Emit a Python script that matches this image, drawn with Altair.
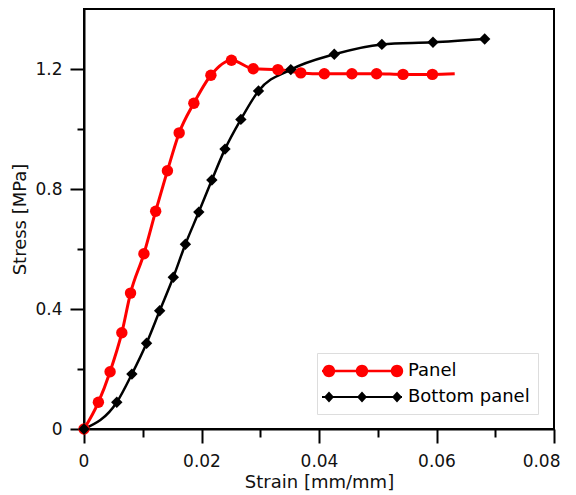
import altair as alt
import pandas as pd

# ---- data ----
panel_strain = [0.0, 0.00245, 0.00444, 0.00644, 0.00792, 0.0102, 0.0122, 0.0142, 0.0162,
                0.0187, 0.0216, 0.0251, 0.0288, 0.0330, 0.0369, 0.0409, 0.0456, 0.0498,
                0.0543, 0.0593]
panel_stress = [0.0, 0.089, 0.191, 0.321, 0.453, 0.584, 0.726, 0.861, 0.987,
                1.086, 1.179, 1.229, 1.201, 1.198, 1.187, 1.184, 1.184, 1.184,
                1.182, 1.182]
# the red line runs on a little past its last marker
panel_line_end_strain = [0.0631]
panel_line_end_stress = [1.184]

bottom_strain = [0.0, 0.00558, 0.00815, 0.01065, 0.01288, 0.0152, 0.01726, 0.01954,
                 0.02176, 0.0240, 0.0267, 0.0297, 0.0352, 0.0426, 0.0507, 0.0594, 0.0682]
bottom_stress = [0.0, 0.089, 0.183, 0.286, 0.394, 0.506, 0.616, 0.723,
                 0.830, 0.933, 1.032, 1.127, 1.198, 1.249, 1.282, 1.289, 1.300]

series_names = ["Panel", "Bottom panel"]
series_colors = ["#ff0000", "#000000"]

x_ticks = [0.0, 0.01, 0.02, 0.03, 0.04, 0.05, 0.06, 0.07, 0.08]
y_ticks = [0.0, 0.2, 0.4, 0.6, 0.8, 1.0, 1.2]

# ---- tables ----
rows = []
for s, v in zip(panel_strain, panel_stress):
    rows.append({"series": "Panel", "strain": s, "stress": v, "marker": True})
for s, v in zip(panel_line_end_strain, panel_line_end_stress):
    rows.append({"series": "Panel", "strain": s, "stress": v, "marker": False})
for s, v in zip(bottom_strain, bottom_stress):
    rows.append({"series": "Bottom panel", "strain": s, "stress": v, "marker": True})
df = pd.DataFrame(rows)

FONT = "DejaVu Sans"

X_MINOR = "round(datum.value*100) % 2 == 1"
Y_MINOR = "round(datum.value*10) % 4 == 2"

xenc = alt.X(
    "strain:Q",
    scale=alt.Scale(domain=[0, 0.08], nice=False, zero=False),
    axis=alt.Axis(
        title="Strain [mm/mm]",
        values=x_ticks,
        format="~g",
        labelExpr="round(datum.value*100) % 2 == 0 ? datum.label : ''",
        tickSize={"condition": {"test": X_MINOR, "value": 8}, "value": 14},
        tickColor={"condition": {"test": X_MINOR, "value": "#000000"}, "value": "#000000"},
        tickWidth={"condition": {"test": X_MINOR, "value": 2}, "value": 2},
        tickOpacity={"condition": {"test": X_MINOR, "value": 1}, "value": 1},
        labelPadding=10,
        labelFlush=True,
        labelFlushOffset=6,
        labelOverlap=False,
        titleY=53,
        titleBaseline="middle",
    ),
)
yenc = alt.Y(
    "stress:Q",
    scale=alt.Scale(domain=[0, 1.4], nice=False, zero=False),
    axis=alt.Axis(
        title="Stress [MPa]",
        values=y_ticks,
        format="~g",
        labelExpr="round(datum.value*10) % 4 == 0 ? datum.label : ''",
        tickSize={"condition": {"test": Y_MINOR, "value": 7}, "value": 14},
        tickColor={"condition": {"test": Y_MINOR, "value": "#000000"}, "value": "#000000"},
        tickWidth={"condition": {"test": Y_MINOR, "value": 2}, "value": 2},
        tickOpacity={"condition": {"test": Y_MINOR, "value": 1}, "value": 1},
        labelPadding=8,
        labelFlush=False,
        labelOverlap=False,
        titleX=-64,
        titleY=210,
        titleBaseline="middle",
    ),
)

base = alt.Chart(df).encode(x=xenc, y=yenc)

line_red = base.transform_filter("datum.series == 'Panel'").mark_line(
    color=series_colors[0], strokeWidth=3, interpolate="monotone")
line_black = base.transform_filter("datum.series == 'Bottom panel'").mark_line(
    color=series_colors[1], strokeWidth=2.5, interpolate="monotone")
pts_red = base.transform_filter("datum.series == 'Panel' && datum.marker").mark_point(
    shape="circle", filled=True, size=130, color=series_colors[0], opacity=1)
pts_black = base.transform_filter("datum.series == 'Bottom panel' && datum.marker").mark_point(
    shape="diamond", filled=True, size=130, color=series_colors[1], opacity=1)

# legend symbols: a line with three markers, drawn as one custom path each
def circ(cx, r):
    return f"M{cx - r},0 A{r},{r} 0 1,1 {cx + r},0 A{r},{r} 0 1,1 {cx - r},0 Z "

def diam(cx, w, h):
    return f"M{cx - w},0 L{cx},{-h} L{cx + w},0 L{cx},{h} Z "

red_sym = "M-1.3,-0.12 L6.7,-0.12 L6.7,0.12 L-1.3,0.12 Z " + circ(-0.6, 0.62) + circ(2.7, 0.62) + circ(6.2, 0.62)
black_sym = "M-1.3,-0.1 L6.7,-0.1 L6.7,0.1 L-1.3,0.1 Z " + diam(-0.6, 0.5, 0.55) + diam(2.7, 0.5, 0.55) + diam(6.2, 0.5, 0.55)

legend_layer = base.transform_filter("false").mark_point(filled=True, size=400, opacity=1).encode(
    color=alt.Color("series:N", scale=alt.Scale(domain=series_names, range=series_colors),
                    legend=alt.Legend(title=None, orient="none", legendX=233, legendY=344,
                                      padding=8, rowPadding=7, labelOffset=63,
                                      symbolSize=400,
                                      labelFont=FONT, labelFontSize=18, labelColor="#000",
                                      fillColor="white", strokeColor="#dddddd",
                                      symbolStrokeWidth=0)),
    shape=alt.Shape("series:N", scale=alt.Scale(domain=series_names, range=[red_sym, black_sym])),
)

chart = alt.layer(line_red, line_black, pts_red, pts_black, legend_layer).properties(
    width=470, height=420,
    autosize=alt.AutoSizeParams(type="none"),
    padding={"left": 76, "top": 1, "right": 14, "bottom": 70},
).configure_view(
    stroke="#000", strokeWidth=2
).configure_axis(
    grid=False, domainColor="#000", domainWidth=2, tickColor="#000", tickWidth=2,
    labelFont=FONT, labelFontSize=17, labelColor="#111",
    titleFont=FONT, titleFontSize=18, titleFontWeight="normal", titleColor="#111",
)

chart.save("out.html", embed_options={"renderer": "svg", "actions": False})
